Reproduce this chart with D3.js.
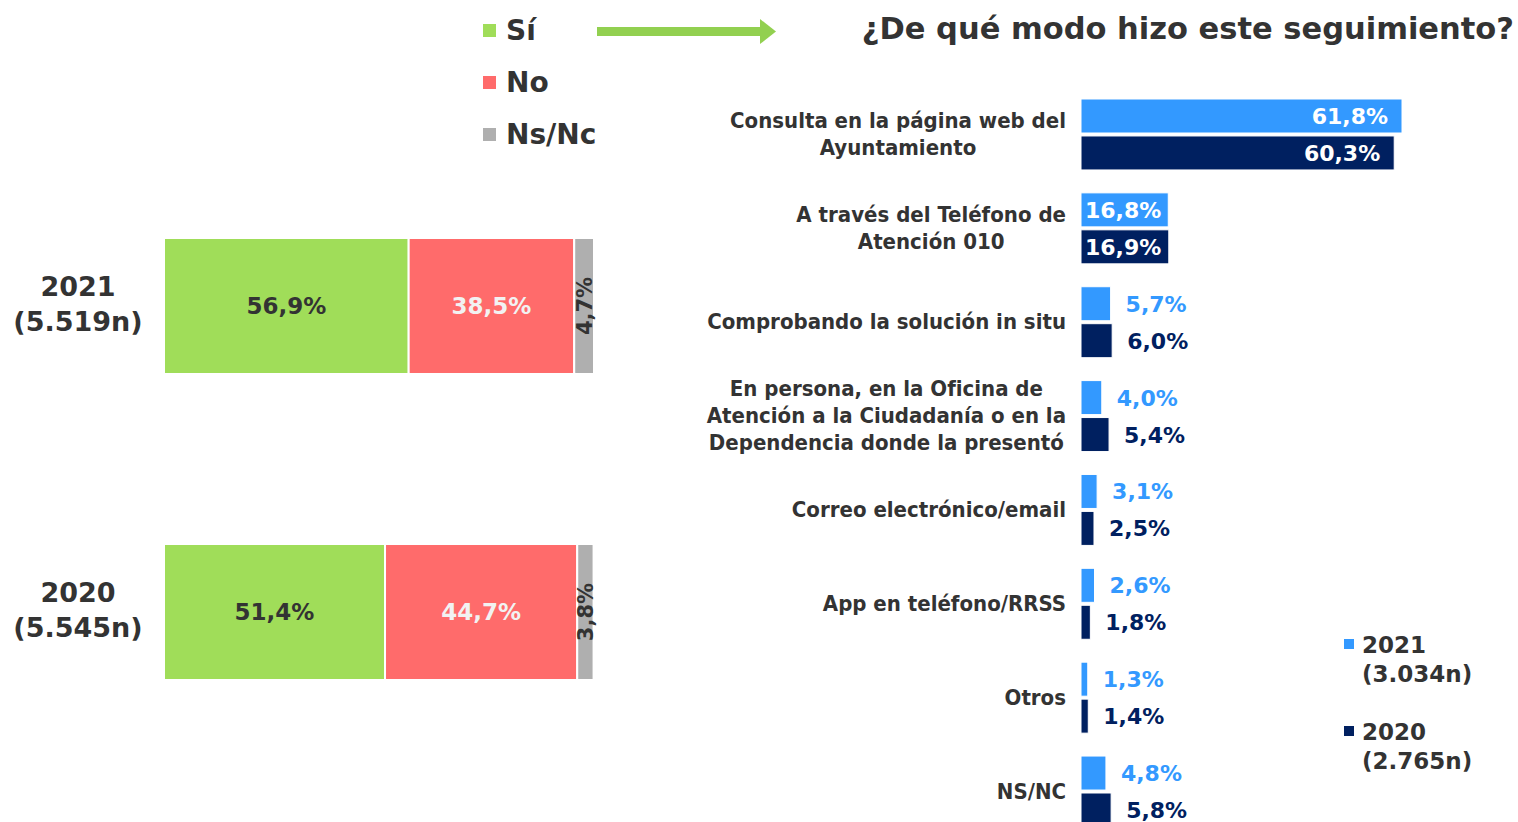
<!DOCTYPE html>
<html lang="es">
<head>
    <meta charset="UTF-8">
    <title>Seguimiento</title>
    <script src="https://d3js.org/d3.v7.min.js"></script>
    <style>
        body { margin: 0; background: #fff; }
        text { font-family: "DejaVu Sans", Verdana, sans-serif; font-weight: bold; }
        .cond { font-family: "DejaVu Sans Condensed", "DejaVu Sans", sans-serif; font-stretch: condensed; }
    </style>
</head>
<body>
<svg id="chart" width="1518" height="822"></svg>
<script>
    // left chart: did the follow-up?
    const years = ["2021", "2020"];
    const yearN = ["(5.519n)", "(5.545n)"];
    const answers = ["Sí", "No", "Ns/Nc"];
    const answerVals = {
        "2021": [56.9, 38.5, 4.7],
        "2020": [51.4, 44.7, 3.8]
    };

    // right chart: how?
    const categories = [
        ["Consulta en la página web del", "Ayuntamiento"],
        ["A través del Teléfono de", "Atención 010"],
        ["Comprobando la solución in situ"],
        ["En persona, en la Oficina de", "Atención a la Ciudadanía o en la", "Dependencia donde la presentó"],
        ["Correo electrónico/email"],
        ["App en teléfono/RRSS"],
        ["Otros"],
        ["NS/NC"]
    ];
    const series = ["2021", "2020"];
    const seriesN = ["(3.034n)", "(2.765n)"];
    const vals2021 = [61.8, 16.8, 5.7, 4.0, 3.1, 2.6, 1.3, 4.8];
    const vals2020 = [60.3, 16.9, 6.0, 5.4, 2.5, 1.8, 1.4, 5.8];

    const answerColors = ["#A0DD59", "#FF6B6B", "#AFAFAF"];
    const answerText = ["#333333", "#F2F2F2", "#333333"];
    const seriesColors = ["#3399FF", "#002060"];
    const dark = "#333333";
    const fmt = v => v.toFixed(1).replace(".", ",") + "%";

    const svg = d3.select("#chart");

    // ---- title + arrow
    svg.append("text")
        .attr("x", 1514).attr("y", 39)
        .attr("text-anchor", "end")
        .attr("font-size", 30.5)
        .attr("fill", dark)
        .text("¿De qué modo hizo este seguimiento?");

    svg.append("rect")
        .attr("x", 597).attr("y", 27).attr("width", 165).attr("height", 9)
        .attr("fill", "#92D050");
    svg.append("path")
        .attr("d", "M760,19 L776,31.5 L760,44 Z")
        .attr("fill", "#92D050");

    // ---- left legend
    const legL = svg.append("g");
    answers.forEach((a, i) => {
        const y = 30 + i * 52;
        legL.append("rect")
            .attr("x", 483).attr("y", y - 6).attr("width", 13).attr("height", 13)
            .attr("fill", answerColors[i]);
        legL.append("text")
            .attr("x", 506).attr("y", y + 10)
            .attr("font-size", 28)
            .attr("fill", dark)
            .text(a);
    });

    // ---- left stacked bars
    const xL = d3.scaleLinear().domain([0, 100]).range([164, 594]);
    const yL = d3.scaleBand().domain(years).range([238, 680]).paddingInner(0.5556).paddingOuter(0);

    years.forEach((yr, j) => {
        const g = svg.append("g");
        const y0 = yL(yr), h = yL.bandwidth();
        let acc = 0;
        answerVals[yr].forEach((v, i) => {
            const x0 = xL(acc), x1 = xL(Math.min(100, acc + v));
            g.append("rect")
                .attr("x", x0).attr("y", y0)
                .attr("width", x1 - x0).attr("height", h)
                .attr("fill", answerColors[i])
                .attr("stroke", "#fff").attr("stroke-width", 2);
            const cx = (x0 + x1) / 2, cy = y0 + h / 2;
            if (i < 2) {
                g.append("text")
                    .attr("x", cx).attr("y", cy + 8)
                    .attr("text-anchor", "middle")
                    .attr("font-size", 23)
                    .attr("fill", answerText[i])
                    .text(fmt(v));
            } else {
                g.append("text")
                    .attr("transform", `translate(${cx + 8},${cy}) rotate(-90)`)
                    .attr("text-anchor", "middle")
                    .attr("font-size", 21)
                    .attr("fill", answerText[i])
                    .text(fmt(v));
            }
            acc += v;
        });
        g.append("text")
            .attr("x", 78).attr("y", y0 + h / 2 - 10)
            .attr("text-anchor", "middle")
            .attr("font-size", 27)
            .attr("fill", dark)
            .text(yr);
        g.append("text")
            .attr("x", 78).attr("y", y0 + h / 2 + 25)
            .attr("text-anchor", "middle")
            .attr("font-size", 27)
            .attr("fill", dark)
            .text(yearN[j]);
    });

    // ---- right grouped bars
    const xR = d3.scaleLinear().domain([0, 61.8]).range([1081, 1402]);
    const yR = d3.scaleBand().domain(d3.range(categories.length)).range([99, 827]).paddingInner(0.244).paddingOuter(0);
    const ySub = d3.scaleBand().domain(series).range([0, yR.bandwidth()]).paddingInner(0.08);
    const data = [vals2021, vals2020];

    categories.forEach((lines, c) => {
        const g = svg.append("g").attr("transform", `translate(0,${yR(c)})`);
        series.forEach((s, k) => {
            const v = data[k][c];
            const y = ySub(s), h = ySub.bandwidth();
            const x1 = xR(v);
            g.append("rect")
                .attr("x", xR(0)).attr("y", y)
                .attr("width", x1 - xR(0)).attr("height", h)
                .attr("fill", seriesColors[k])
                .attr("stroke", "#fff").attr("stroke-width", 1);
            const t = g.append("text")
                .attr("y", y + h / 2 + 8)
                .attr("font-size", 22)
                .text(fmt(v));
            const w = t.node().getComputedTextLength();
            if (v >= 10) {
                const end = Math.max(x1 - 14, xR(0) + 4 + w);
                t.attr("x", end).attr("text-anchor", "end").attr("fill", "#fff");
            } else {
                t.attr("x", x1 + 15).attr("fill", seriesColors[k]);
            }
        });
        // category label, centred block, right-aligned
        const lg = g.append("g");
        const lh = 27;
        const mid = yR.bandwidth() / 2;
        const texts = lines.map((ln, i) => lg.append("text")
            .attr("class", "cond")
            .attr("y", mid + (i - (lines.length - 1) / 2) * lh + 7)
            .attr("font-size", 22)
            .attr("fill", dark)
            .attr("text-anchor", "middle")
            .text(ln));
        const maxW = d3.max(texts, t => t.node().getComputedTextLength());
        texts.forEach(t => t.attr("x", 1066 - maxW / 2));
    });

    // ---- right legend
    series.forEach((s, k) => {
        const y = 644 + k * 87;
        svg.append("rect")
            .attr("x", 1344).attr("y", y - 5).attr("width", 10).attr("height", 10)
            .attr("fill", seriesColors[k]);
        svg.append("text")
            .attr("x", 1362).attr("y", y + 9)
            .attr("font-size", 23).attr("fill", dark)
            .text(s);
        svg.append("text")
            .attr("x", 1362).attr("y", y + 38)
            .attr("font-size", 23).attr("fill", dark)
            .text(seriesN[k]);
    });
</script>
</body>
</html>
